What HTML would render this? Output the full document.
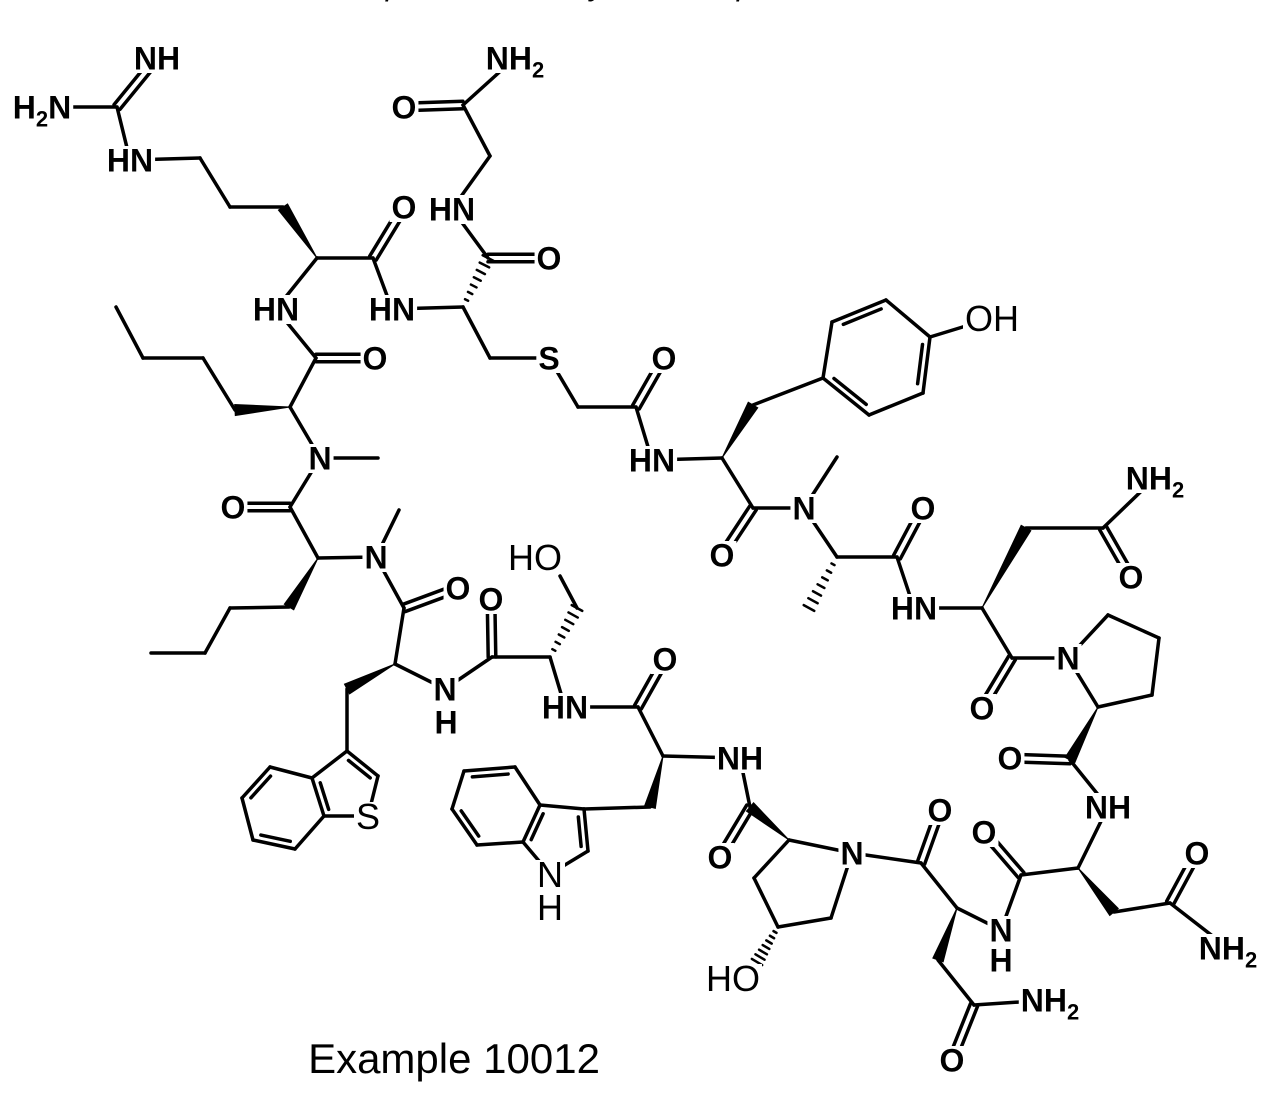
<!DOCTYPE html>
<html><head><meta charset="utf-8"><style>
html,body{margin:0;padding:0;background:#fff;}
svg{display:block;}
text{font-family:"Liberation Sans",Arial,sans-serif;}
</style></head><body>
<svg id="s" width="1272" height="1099" viewBox="0 0 1272 1099" xmlns="http://www.w3.org/2000/svg">
<g id="bonds" stroke="#000" stroke-width="3.5" stroke-linecap="round" fill="#000"></g>
<g id="bg" fill="#fff"></g>
<g id="labels" fill="#000"></g>
<text x="386" y="-5" font-family="Liberation Serif,serif" font-style="italic" font-size="32">p</text>
<text x="590" y="-5" font-family="Liberation Serif,serif" font-style="italic" font-size="32">y</text>
<text x="737" y="-5" font-family="Liberation Serif,serif" font-style="italic" font-size="32">p</text>
<text x="454" y="1073" text-anchor="middle" font-size="42">Example 10012</text>
</svg>
<script>
var A={
g_NH:[157,58,'NH'],g_H2N:[42,107,'H2N'],gC:[117,107],gHN:[130,160,'HN'],a1:[200,158],a2:[230,207],a3:[283,207],
argA:[317,258],argC:[373,258],argO:[404,207,'O'],argN:[276,309,'HN'],cysN:[392,309,'HN'],cysA:[463,307],cysC:[488,258],cysO:[549,258,'O'],
glyN:[452,209,'HN'],glyA:[490,156],glyC:[463,105],glyO:[404,107,'O'],glyNH2:[515,58,'NH2'],
cysB:[490,358],S:[549,358,'S'],sC:[578,407],sCO:[636,407],sO:[664,358,'O'],tyrN:[652,460,'HN'],tyrA:[722,458],tyrB:[753,405],
r1:[823,378],r2:[832,322],r3:[886,300],r4:[930,337],r5:[923,393],r6:[869,415],OH:[992,318,'OH',1],
tyrC:[753,508],tyrO:[722,555,'O'],maN:[804,508,'N'],maMe:[837,457],maA:[837,557],maMe2:[809,608],maC:[897,557],maO:[923,508,'O'],
asnN:[914,608,'HN'],asnA:[982,608],asnB:[1026,528],asnG:[1103,528],asnO2:[1131,577,'O'],asnNH2:[1155,478,'NH2'],
asnC:[1012,658],asnO:[982,708,'O'],proN:[1068,658,'N'],p1:[1108,615],p2:[1159,638],p3:[1152,695],proA:[1098,707],proC:[1070,760],proO:[1010,758,'O'],
asn2N:[1108,807,'NH'],asn2A:[1078,868],asn2B:[1114,912],asn2G:[1170,903],asn2O:[1197,853,'O'],asn2NH2:[1228,948,'NH2'],
asn2C:[1021,875],asn2Co:[984,832,'O'],asn1N:[1001,930,'N'],asn1A:[957,908],asn1B:[938,960],asn1G:[974,1005],asn1NH2:[1050,1000,'NH2'],asn1O:[952,1060,'O'],
asn1C:[921,863],asn1O2:[940,810,'O'],hypN:[852,853,'N'],hypA:[789,840],hyp3:[754,878],hyp4:[778,927],hyp5:[831,918],hypHO:[733,978,'HO',1],hypHOb:[757,962],
hypC:[750,807],hypO:[720,857,'O'],trpN:[740,758,'NH'],trpA:[663,756],trpB:[650,807],trpC3:[584,809],trpC2:[588,851],trpN1:[550,874,'N',1],
trpC7a:[523,842],trpC3a:[540,805],b1:[515,767],b2:[464,771],b3:[452,809],b4:[477,845],
trpC:[638,707],trpO:[665,659,'O'],serN:[565,707,'HN'],serA:[550,657],serB:[577,608],serHO:[535,557,'HO',1],serOb:[560,576],serC:[492,657],serO2:[491,599,'O'],
btN:[445,689,'N'],btA:[395,664],btB:[347,689],btC3:[347,751],btC2:[378,776],btS:[368,816,'S',1],btC7a:[324,816],btC3a:[312,778],
c1:[270,767],c2:[242,798],c3:[253,840],c4:[295,849],btCc:[404,608],btO:[458,588,'O'],
n2N:[376,557,'N'],n2Me:[399,510],n2A:[318,558],n2B:[289,607],n2c1:[230,608],n2c2:[205,653],n2c3:[151,653],
n1C:[290,507],n1O:[233,507,'O'],n1N:[320,458,'N'],n1Me:[378,458],nleA:[290,407],nleB:[235,410],nl1:[203,358],nl2:[143,358],nl3:[116,307],nleC:[316,358],nleO:[375,358,'O']
};
var B=[
'g_H2N gC s','gC g_NH d','gC gHN s','gHN a1 s','a1 a2 s','a2 a3 s','argA a3 w','argA argC s','argC argO d','argA argN s','argC cysN s','cysN cysA s',
'cysA cysC h','cysC cysO d','cysC glyN s','glyN glyA s','glyA glyC s','glyC glyO d','glyC glyNH2 s','cysA cysB s','cysB S s','S sC s','sC sCO s','sCO sO d','sCO tyrN s',
'tyrN tyrA s','tyrA tyrB w','tyrB r1 s','r1 r2 s','r2 r3 s','r3 r4 s','r4 r5 s','r5 r6 s','r6 r1 s','r4 OH s','tyrA tyrC s','tyrC tyrO d','tyrC maN s','maN maMe s','maN maA s',
'maA maMe2 h','maA maC s','maC maO d','maC asnN s','asnN asnA s','asnA asnB w','asnB asnG s','asnG asnO2 d','asnG asnNH2 s','asnA asnC s','asnC asnO d','asnC proN s',
'proN p1 s','p1 p2 s','p2 p3 s','p3 proA s','proA proN s','proA proC w','proC proO d','proC asn2N s','asn2N asn2A s','asn2A asn2B w','asn2B asn2G s','asn2G asn2O d','asn2G asn2NH2 s',
'asn2A asn2C s','asn2C asn2Co d','asn2C asn1N s','asn1N asn1A s','asn1A asn1B w','asn1B asn1G s','asn1G asn1NH2 s','asn1G asn1O d','asn1A asn1C s','asn1C asn1O2 d','asn1C hypN s',
'hypN hypA s','hypA hyp3 s','hyp3 hyp4 s','hyp4 hyp5 s','hyp5 hypN s','hyp4 hypHOb h','hypA hypC w','hypC hypO d','hypC trpN s','trpN trpA s','trpA trpB w','trpB trpC3 s',
'trpC3 trpC2 s','trpC2 trpN1 s','trpN1 trpC7a s','trpC7a trpC3a s','trpC3a trpC3 s','trpC3a b1 s','b1 b2 s','b2 b3 s','b3 b4 s','b4 trpC7a s',
'trpA trpC s','trpC trpO d','trpC serN s','serN serA s','serA serB h','serB serOb s','serA serC s','serC serO2 d','serC btN s','btN btA s','btA btB w','btB btC3 s',
'btC3 btC2 s','btC2 btS s','btS btC7a s','btC7a btC3a s','btC3a btC3 s','btC3a c1 s','c1 c2 s','c2 c3 s','c3 c4 s','c4 btC7a s',
'btA btCc s','btCc btO d','btCc n2N s','n2N n2Me s','n2N n2A s','n2A n2B w','n2B n2c1 s','n2c1 n2c2 s','n2c2 n2c3 s','n2A n1C s','n1C n1O d','n1C n1N s','n1N n1Me s',
'n1N nleA s','nleA nleB w','nleB nl1 s','nl1 nl2 s','nl2 nl3 s','nleA nleC s','nleC nleO d','nleC argN s'
];
var AR=[['r2','r3',[886,358]],['r4','r5',[877,358]],['r6','r1',[877,358]],
['btC3','btC2',[346,793]],['btC3a','btC7a',[346,793]],['c1','c2',[283,808]],['c3','c4',[283,808]],
['trpC3','trpC2',[557,838]],['trpC3a','trpC7a',[557,838]],['b1','b2',[494,808]],['b3','b4',[494,808]]];
var NS='http://www.w3.org/2000/svg',G=document.getElementById('bonds');
function el(n,a,p){var e=document.createElementNS(NS,n);for(var k in a)e.setAttribute(k,a[k]);(p||G).appendChild(e);return e;}
function line(x1,y1,x2,y2,w){var l=el('line',{x1:x1,y1:y1,x2:x2,y2:y2});if(w)l.setAttribute('stroke-width',w);}
B.forEach(function(s){var p=s.split(' '),a=A[p[0]],b=A[p[1]],t=p[2];
 var x1=a[0],y1=a[1],x2=b[0],y2=b[1],dx=x2-x1,dy=y2-y1,L=Math.hypot(dx,dy),ux=dx/L,uy=dy/L,nx=-uy,ny=ux;
 if(t=='s'){line(x1,y1,x2,y2);}
 else if(t=='d'){var o=3.8;line(x1+nx*o,y1+ny*o,x2+nx*o,y2+ny*o);line(x1-nx*o,y1-ny*o,x2-nx*o,y2-ny*o);}
 else if(t=='w'){var w=5.5;el('polygon',{points:x1+','+y1+' '+(x2+nx*w)+','+(y2+ny*w)+' '+(x2-nx*w)+','+(y2-ny*w),'stroke-width':1});}
 else if(t=='h'){var n=7;for(var i=1;i<=n;i++){var f=i/n,cx=x1+dx*f,cy=y1+dy*f,w=1+5*f;line(cx+nx*w,cy+ny*w,cx-nx*w,cy-ny*w,2.5);}}
});
AR.forEach(function(r){var a=A[r[0]],b=A[r[1]],c=r[2];
 var mx=(a[0]+b[0])/2,my=(a[1]+b[1])/2,vx=c[0]-mx,vy=c[1]-my,vl=Math.hypot(vx,vy),o=6.5;
 var ox=vx/vl*o,oy=vy/vl*o,f=0.15;
 var x1=a[0]+(b[0]-a[0])*f+ox,y1=a[1]+(b[1]-a[1])*f+oy,x2=b[0]+(a[0]-b[0])*f+ox,y2=b[1]+(a[1]-b[1])*f+oy;line(x1,y1,x2,y2);});
var LG=document.getElementById('labels'),BG=document.getElementById('bg');
function addLabel(x,y,txt,normal){
 var fs=normal?36:32;
 var t=el('text',{x:x,y:y+fs*0.36,'text-anchor':'middle','font-size':fs,'font-weight':normal?'normal':'bold'},LG);
 var m=txt.match(/^(.*?)2(.*)$/);
 if(m){t.appendChild(document.createTextNode(m[1]));var s=el('tspan',{'font-size':22,dy:8},t);s.textContent='2';
  if(m[2]){var s2=el('tspan',{dy:-8},t);s2.textContent=m[2];}}
 else t.textContent=txt;
 var bb=t.getBBox();el('rect',{x:bb.x-2,y:y-14,width:bb.width+4,height:29},BG);
}
for(var k in A){var a=A[k];if(a[2]){addLabel(a[0],a[1],a[2],a[3]);}}
addLabel(446,722,'H',0);addLabel(1001,960,'H',0);addLabel(550,907,'H',1);
</script>
</body></html>
